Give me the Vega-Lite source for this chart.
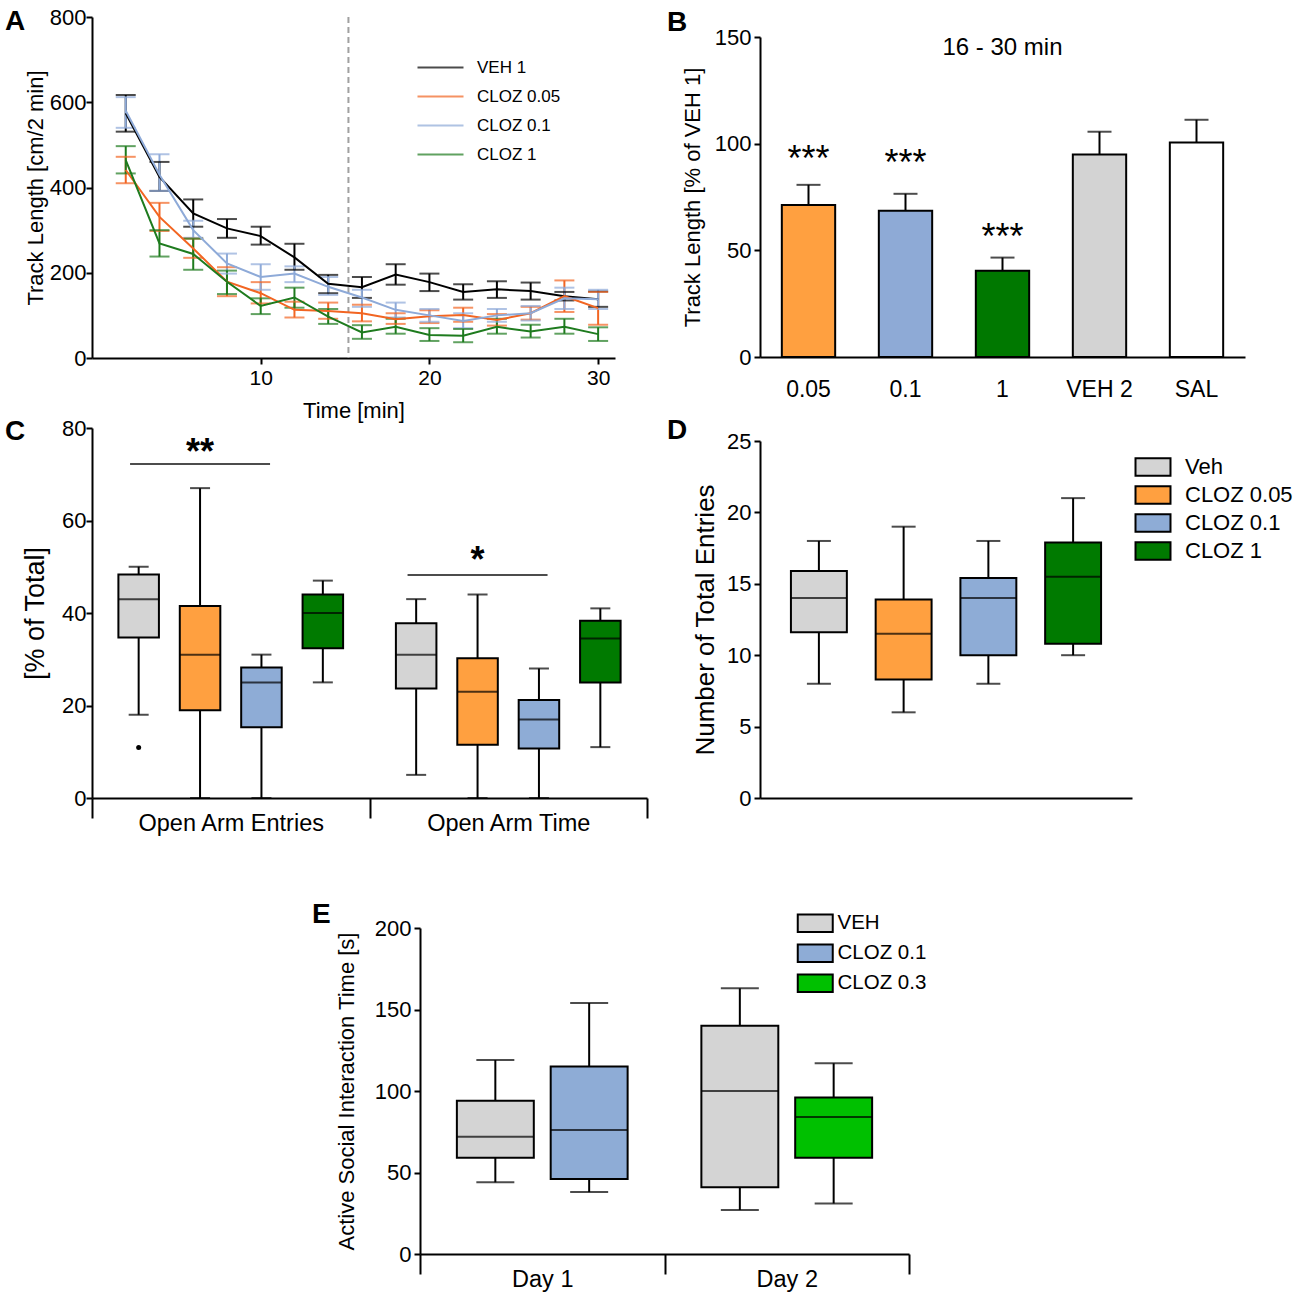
{
"$schema": "https://vega.github.io/schema/vega-lite/v6.json",
"background": "white",
"padding": {"left": 5, "top": 5, "right": 5, "bottom": 5},
"config": {
  "font": "Liberation Sans",
  "view": {"stroke": null},
  "axis": {"domainColor": "black", "domainWidth": 2, "tickColor": "black", "tickWidth": 2, "tickSize": 6, "labelColor": "black", "labelFontSize": 22, "titleColor": "black", "titleFontSize": 22, "titleFontWeight": "normal", "grid": false, "labelPadding": 3, "labelLimit": 0},
  "legend": {"labelColor": "black", "padding": 0},
  "title": {"fontSize": 28, "fontWeight": "bold", "color": "black", "anchor": "start", "frame": "group", "baseline": "alphabetic"}
},
"resolve": {"scale": {"fill": "independent", "color": "independent", "xOffset": "independent"}, "legend": {"fill": "independent", "color": "independent"}},
"datasets": {
  "tl": [
    {"t":2,"g":"VEH 1","m":574,"lo":531,"hi":617},{"t":4,"g":"VEH 1","m":425,"lo":392,"hi":460},{"t":6,"g":"VEH 1","m":339,"lo":308,"hi":372},{"t":8,"g":"VEH 1","m":304,"lo":282,"hi":326},{"t":10,"g":"VEH 1","m":286,"lo":266,"hi":308},{"t":12,"g":"VEH 1","m":236,"lo":207,"hi":268},{"t":14,"g":"VEH 1","m":174,"lo":152,"hi":195},{"t":16,"g":"VEH 1","m":166,"lo":141,"hi":190},{"t":18,"g":"VEH 1","m":196,"lo":172,"hi":220},{"t":20,"g":"VEH 1","m":178,"lo":157,"hi":198},{"t":22,"g":"VEH 1","m":155,"lo":137,"hi":173},{"t":24,"g":"VEH 1","m":161,"lo":141,"hi":180},{"t":26,"g":"VEH 1","m":157,"lo":137,"hi":177},{"t":28,"g":"VEH 1","m":145,"lo":135,"hi":155},{"t":30,"g":"VEH 1","m":138,"lo":120,"hi":156},
    {"t":2,"g":"CLOZ 0.05","m":441,"lo":410,"hi":472},{"t":4,"g":"CLOZ 0.05","m":331,"lo":298,"hi":364},{"t":6,"g":"CLOZ 0.05","m":257,"lo":235,"hi":280},{"t":8,"g":"CLOZ 0.05","m":179,"lo":145,"hi":213},{"t":10,"g":"CLOZ 0.05","m":152,"lo":128,"hi":178},{"t":12,"g":"CLOZ 0.05","m":113,"lo":95,"hi":132},{"t":14,"g":"CLOZ 0.05","m":110,"lo":92,"hi":130},{"t":16,"g":"CLOZ 0.05","m":105,"lo":86,"hi":125},{"t":18,"g":"CLOZ 0.05","m":91,"lo":80,"hi":105},{"t":20,"g":"CLOZ 0.05","m":98,"lo":82,"hi":112},{"t":22,"g":"CLOZ 0.05","m":101,"lo":85,"hi":118},{"t":24,"g":"CLOZ 0.05","m":89,"lo":76,"hi":103},{"t":26,"g":"CLOZ 0.05","m":105,"lo":90,"hi":120},{"t":28,"g":"CLOZ 0.05","m":145,"lo":108,"hi":182},{"t":30,"g":"CLOZ 0.05","m":117,"lo":78,"hi":155},
    {"t":2,"g":"CLOZ 0.1","m":580,"lo":540,"hi":612},{"t":4,"g":"CLOZ 0.1","m":430,"lo":392,"hi":478},{"t":6,"g":"CLOZ 0.1","m":300,"lo":282,"hi":322},{"t":8,"g":"CLOZ 0.1","m":222,"lo":198,"hi":245},{"t":10,"g":"CLOZ 0.1","m":190,"lo":160,"hi":220},{"t":12,"g":"CLOZ 0.1","m":198,"lo":178,"hi":215},{"t":14,"g":"CLOZ 0.1","m":167,"lo":148,"hi":190},{"t":16,"g":"CLOZ 0.1","m":142,"lo":120,"hi":160},{"t":18,"g":"CLOZ 0.1","m":113,"lo":95,"hi":130},{"t":20,"g":"CLOZ 0.1","m":100,"lo":85,"hi":115},{"t":22,"g":"CLOZ 0.1","m":87,"lo":70,"hi":105},{"t":24,"g":"CLOZ 0.1","m":100,"lo":85,"hi":115},{"t":26,"g":"CLOZ 0.1","m":105,"lo":88,"hi":122},{"t":28,"g":"CLOZ 0.1","m":140,"lo":115,"hi":165},{"t":30,"g":"CLOZ 0.1","m":138,"lo":115,"hi":160},
    {"t":2,"g":"CLOZ 1","m":464,"lo":433,"hi":497},{"t":4,"g":"CLOZ 1","m":269,"lo":238,"hi":300},{"t":6,"g":"CLOZ 1","m":244,"lo":207,"hi":280},{"t":8,"g":"CLOZ 1","m":179,"lo":150,"hi":205},{"t":10,"g":"CLOZ 1","m":122,"lo":103,"hi":140},{"t":12,"g":"CLOZ 1","m":142,"lo":118,"hi":165},{"t":14,"g":"CLOZ 1","m":97,"lo":80,"hi":115},{"t":16,"g":"CLOZ 1","m":60,"lo":45,"hi":77},{"t":18,"g":"CLOZ 1","m":73,"lo":57,"hi":92},{"t":20,"g":"CLOZ 1","m":54,"lo":40,"hi":70},{"t":22,"g":"CLOZ 1","m":52,"lo":37,"hi":68},{"t":24,"g":"CLOZ 1","m":73,"lo":57,"hi":92},{"t":26,"g":"CLOZ 1","m":62,"lo":48,"hi":78},{"t":28,"g":"CLOZ 1","m":73,"lo":57,"hi":92},{"t":30,"g":"CLOZ 1","m":56,"lo":40,"hi":72}
  ],
  "bars": [{"cat":"0.05","m":71.3,"hi":80.7},{"cat":"0.1","m":68.6,"hi":76.5},{"cat":"1","m":40.4,"hi":46.6},{"cat":"VEH 2","m":94.9,"hi":105.6},{"cat":"SAL","m":100.5,"hi":111.2}],
  "bstars": [{"cat":"0.05","y":87.4,"label":"***"},{"cat":"0.1","y":85.1,"label":"***"},{"cat":"1","y":50.4,"label":"***"}],
  "bnote": [{"cat":"1","y":141.6,"label":"16 - 30 min"}],
  "cbox": [
    {"measure":"Open Arm Entries","cond":"Veh","min":18,"q1":34.7,"med":43,"q3":48.3,"max":50},
    {"measure":"Open Arm Entries","cond":"CLOZ 0.05","min":0,"q1":19,"med":31,"q3":41.5,"max":67},
    {"measure":"Open Arm Entries","cond":"CLOZ 0.1","min":0,"q1":15.3,"med":25,"q3":28.2,"max":31},
    {"measure":"Open Arm Entries","cond":"CLOZ 1","min":25,"q1":32.4,"med":40,"q3":44,"max":47},
    {"measure":"Open Arm Time","cond":"Veh","min":5,"q1":23.7,"med":31,"q3":37.8,"max":43},
    {"measure":"Open Arm Time","cond":"CLOZ 0.05","min":0,"q1":11.5,"med":23,"q3":30.2,"max":44},
    {"measure":"Open Arm Time","cond":"CLOZ 0.1","min":0,"q1":10.7,"med":17,"q3":21.2,"max":28},
    {"measure":"Open Arm Time","cond":"CLOZ 1","min":11,"q1":25,"med":34.5,"q3":38.3,"max":41}
  ],
  "cout": [{"measure":"Open Arm Entries","cond":"Veh","v":10.9}],
  "csig": [{"measure":"Open Arm Entries","cond":"CLOZ 0.05","y":72.2,"ty":72.2,"label":"**"},{"measure":"Open Arm Time","cond":"CLOZ 0.05","y":48.2,"ty":48.9,"label":"*"}],
  "dbox": [
    {"cond":"Veh","min":8,"q1":11.6,"med":14,"q3":15.9,"max":18},
    {"cond":"CLOZ 0.05","min":6,"q1":8.3,"med":11.5,"q3":13.9,"max":19},
    {"cond":"CLOZ 0.1","min":8,"q1":10,"med":14,"q3":15.4,"max":18},
    {"cond":"CLOZ 1","min":10,"q1":10.8,"med":15.5,"q3":17.9,"max":21}
  ],
  "ebox": [
    {"day":"Day 1","slot":"a","cond":"VEH","min":44,"q1":59,"med":72,"q3":94,"max":119},
    {"day":"Day 1","slot":"b","cond":"CLOZ 0.1","min":38,"q1":46,"med":76,"q3":115,"max":154},
    {"day":"Day 2","slot":"a","cond":"VEH","min":27,"q1":41,"med":100,"q3":140,"max":163},
    {"day":"Day 2","slot":"b","cond":"CLOZ 0.3","min":31,"q1":59,"med":84,"q3":96,"max":117}
  ],
  "blank": [{}]
},
"vconcat": [
 {"hconcat": [
  {"vconcat": [
   {"vconcat": [
    {"width": 1, "height": 1, "data": {"name": "blank"}, "mark": {"type": "point", "opacity": 0, "size": 0, "strokeWidth": 0}},
    {"width": 523, "height": 341,
     "title": {"text": "A", "dx": -87, "offset": -30},
     "layer": [
      {"data": {"values": [{"t": 15.2}]}, "mark": {"type": "rule", "color": "#a0a0a0", "strokeWidth": 2, "strokeDash": [6, 4]}, "encoding": {"x": {"field": "t", "type": "quantitative", "title": "Time [min]"}}},
      {"data": {"name": "tl"},
       "encoding": {
         "x": {"field": "t", "type": "quantitative", "title": "Time [min]", "scale": {"domain": [1, 31], "nice": false}, "axis": {"values": [10, 20, 30], "titlePadding": 12, "labelFontSize": 21}},
         "color": {"field": "g", "type": "nominal", "scale": {"domain": ["VEH 1", "CLOZ 0.05", "CLOZ 0.1", "CLOZ 1"], "range": ["#000000", "#f26522", "#8eaad8", "#1e7b1e"]},
           "legend": {"title": null, "orient": "none", "legendX": 336, "legendY": 50, "symbolType": "M-2,0H2", "symbolSize": 529, "symbolStrokeWidth": 2, "labelFontSize": 17, "labelOffset": 24, "rowPadding": 8}}
       },
       "layer": [
        {"mark": {"type": "rule", "strokeWidth": 2}, "encoding": {"y": {"field": "lo", "type": "quantitative", "title": "Track Length [cm/2 min]"}, "y2": {"field": "hi"}}},
        {"mark": {"type": "tick", "orient": "horizontal", "size": 20, "thickness": 2}, "encoding": {"y": {"field": "lo", "type": "quantitative", "title": "Track Length [cm/2 min]"}}},
        {"mark": {"type": "tick", "orient": "horizontal", "size": 20, "thickness": 2}, "encoding": {"y": {"field": "hi", "type": "quantitative", "title": "Track Length [cm/2 min]"}}},
        {"mark": {"type": "line", "strokeWidth": 2}, "encoding": {"y": {"field": "m", "type": "quantitative", "title": "Track Length [cm/2 min]", "scale": {"domain": [0, 800], "nice": false}, "axis": {"values": [0, 200, 400, 600, 800], "titlePadding": 2, "labelPadding": 0}}}}
       ]
      }
     ]
    }
   ], "spacing": 0},
   {"width": 555, "height": 370,
    "title": {"text": "C", "dx": -87, "offset": -29},
    "encoding": {
      "x": {"field": "measure", "type": "nominal", "title": null, "scale": {"domain": ["Open Arm Entries", "Open Arm Time"], "paddingInner": 0, "paddingOuter": 0}, "axis": {"labelAngle": 0, "tickBand": "extent", "tickSize": 20, "labelPadding": -7, "labelFontSize": 23.5}},
      "xOffset": {"field": "cond", "type": "nominal", "scale": {"domain": ["Veh", "CLOZ 0.05", "CLOZ 0.1", "CLOZ 1"], "paddingInner": 0.34, "paddingOuter": 0.43}}
    },
    "layer": [
     {"data": {"name": "cbox"}, "mark": {"type": "rule", "strokeWidth": 2, "color": "black"}, "encoding": {"y": {"field": "min", "type": "quantitative", "title": "[% of Total]", "scale": {"domain": [0, 80], "nice": false}, "axis": {"values": [0, 20, 40, 60, 80], "titlePadding": 12, "titleFontSize": 27, "labelPadding": 0}}, "y2": {"field": "max"}}},
     {"data": {"name": "cbox"}, "mark": {"type": "tick", "orient": "horizontal", "size": 20, "thickness": 2, "color": "black"}, "encoding": {"y": {"field": "min", "type": "quantitative", "title": "[% of Total]"}}},
     {"data": {"name": "cbox"}, "mark": {"type": "tick", "orient": "horizontal", "size": 20, "thickness": 2, "color": "black"}, "encoding": {"y": {"field": "max", "type": "quantitative", "title": "[% of Total]"}}},
     {"data": {"name": "cbox"}, "mark": {"type": "bar", "stroke": "black", "strokeWidth": 2}, "encoding": {"y": {"field": "q1", "type": "quantitative", "title": "[% of Total]"}, "y2": {"field": "q3"}, "fill": {"field": "cond", "type": "nominal", "scale": {"domain": ["Veh", "CLOZ 0.05", "CLOZ 0.1", "CLOZ 1"], "range": ["#d4d4d4", "#ffa040", "#8eacd6", "#007a00"]}, "legend": null}}},
     {"data": {"name": "cbox"}, "mark": {"type": "tick", "orient": "horizontal", "size": 41, "thickness": 2, "color": "black"}, "encoding": {"y": {"field": "med", "type": "quantitative", "title": "[% of Total]"}}},
     {"data": {"name": "cout"}, "mark": {"type": "point", "filled": true, "color": "black", "size": 25, "opacity": 1}, "encoding": {"y": {"field": "v", "type": "quantitative", "title": "[% of Total]"}}},
     {"data": {"name": "csig"}, "mark": {"type": "tick", "orient": "horizontal", "size": 140, "thickness": 2, "color": "black"}, "encoding": {"y": {"field": "y", "type": "quantitative", "title": "[% of Total]"}}},
     {"data": {"name": "csig"}, "mark": {"type": "text", "fontSize": 36, "fontWeight": "bold", "baseline": "alphabetic", "color": "black"}, "encoding": {"y": {"field": "ty", "type": "quantitative", "title": "[% of Total]"}, "text": {"field": "label"}}}
    ]
   }
  ], "spacing": -4, "resolve": {"scale": {"fill": "independent", "color": "independent", "xOffset": "independent"}, "legend": {"fill": "independent", "color": "independent"}}},
  {"vconcat": [
   {"vconcat": [
    {"width": 1, "height": 1, "data": {"name": "blank"}, "mark": {"type": "point", "opacity": 0, "size": 0, "strokeWidth": 0}},
    {"width": 485, "height": 320,
     "title": {"text": "B", "dx": -93, "offset": -11},
     "encoding": {"x": {"field": "cat", "type": "nominal", "title": null, "scale": {"domain": ["0.05", "0.1", "1", "VEH 2", "SAL"], "paddingInner": 0.45, "paddingOuter": 0.225}, "axis": {"labelAngle": 0, "ticks": false, "tickSize": 0, "labelPadding": 21, "labelFontSize": 23}}},
     "layer": [
      {"data": {"name": "bars"}, "mark": {"type": "rule", "strokeWidth": 2, "color": "black"}, "encoding": {"y": {"field": "m", "type": "quantitative", "title": "Track Length [% of VEH 1]", "scale": {"domain": [0, 150], "nice": false}, "axis": {"values": [0, 50, 100, 150], "titlePadding": 10}}, "y2": {"field": "hi"}}},
      {"data": {"name": "bars"}, "mark": {"type": "tick", "orient": "horizontal", "size": 24, "thickness": 2, "color": "black"}, "encoding": {"y": {"field": "hi", "type": "quantitative", "title": "Track Length [% of VEH 1]"}}},
      {"data": {"name": "bars"}, "mark": {"type": "bar", "stroke": "black", "strokeWidth": 2}, "encoding": {"y": {"field": "m", "type": "quantitative", "title": "Track Length [% of VEH 1]"}, "fill": {"field": "cat", "type": "nominal", "scale": {"domain": ["0.05", "0.1", "1", "VEH 2", "SAL"], "range": ["#ffa040", "#8eaad6", "#007800", "#d3d3d3", "#ffffff"]}, "legend": null}}},
      {"data": {"name": "bstars"}, "mark": {"type": "text", "fontSize": 36, "baseline": "alphabetic", "color": "black"}, "encoding": {"y": {"field": "y", "type": "quantitative", "title": "Track Length [% of VEH 1]"}, "text": {"field": "label"}}},
      {"data": {"name": "bnote"}, "mark": {"type": "text", "fontSize": 24, "baseline": "alphabetic", "color": "black"}, "encoding": {"y": {"field": "y", "type": "quantitative", "title": "Track Length [% of VEH 1]"}, "text": {"field": "label"}}}
     ]
    }
   ], "spacing": 3},
   {"width": 372, "height": 357,
    "title": {"text": "D", "dx": -93, "offset": -15},
    "data": {"name": "dbox"},
    "encoding": {"x": {"field": "cond", "type": "nominal", "title": null, "scale": {"domain": ["Veh", "CLOZ 0.05", "CLOZ 0.1", "CLOZ 1"], "paddingInner": 0.34, "paddingOuter": 0.365}, "axis": {"labels": false, "ticks": false}}},
    "layer": [
     {"mark": {"type": "rule", "strokeWidth": 2, "color": "black"}, "encoding": {"y": {"field": "min", "type": "quantitative", "title": "Number of Total Entries", "scale": {"domain": [0, 25], "nice": false}, "axis": {"values": [0, 5, 10, 15, 20, 25], "titlePadding": 8, "titleFontSize": 26}}, "y2": {"field": "max"}}},
     {"mark": {"type": "tick", "orient": "horizontal", "size": 24, "thickness": 2, "color": "black"}, "encoding": {"y": {"field": "min", "type": "quantitative", "title": "Number of Total Entries"}}},
     {"mark": {"type": "tick", "orient": "horizontal", "size": 24, "thickness": 2, "color": "black"}, "encoding": {"y": {"field": "max", "type": "quantitative", "title": "Number of Total Entries"}}},
     {"mark": {"type": "bar", "stroke": "black", "strokeWidth": 2}, "encoding": {"y": {"field": "q1", "type": "quantitative", "title": "Number of Total Entries"}, "y2": {"field": "q3"}, "fill": {"field": "cond", "type": "nominal", "scale": {"domain": ["Veh", "CLOZ 0.05", "CLOZ 0.1", "CLOZ 1"], "range": ["#d4d4d4", "#ffa040", "#8eacd6", "#007a00"]},
        "legend": {"title": null, "orient": "none", "legendX": 382, "legendY": 15, "symbolType": "M-2,-1H2V1H-2Z", "symbolSize": 306, "symbolStrokeColor": "black", "symbolStrokeWidth": 2, "labelFontSize": 22, "labelOffset": 21, "rowPadding": 2}}}},
     {"mark": {"type": "tick", "orient": "horizontal", "size": 56, "thickness": 2, "color": "black"}, "encoding": {"y": {"field": "med", "type": "quantitative", "title": "Number of Total Entries"}}}
    ]
   }
  ], "spacing": 16, "resolve": {"scale": {"fill": "independent", "color": "independent", "xOffset": "independent"}, "legend": {"fill": "independent", "color": "independent"}}}
 ], "spacing": 19, "resolve": {"scale": {"fill": "independent", "color": "independent", "xOffset": "independent"}, "legend": {"fill": "independent", "color": "independent"}}},
 {"hconcat": [
   {"width": 220, "height": 1, "data": {"name": "blank"}, "mark": {"type": "point", "opacity": 0, "size": 0, "strokeWidth": 0}},
   {"width": 489, "height": 326,
    "title": {"text": "E", "dx": -108, "offset": -16},
    "data": {"name": "ebox"},
    "encoding": {
      "x": {"field": "day", "type": "nominal", "title": null, "scale": {"domain": ["Day 1", "Day 2"], "paddingInner": 0, "paddingOuter": 0}, "axis": {"labelAngle": 0, "tickBand": "extent", "tickSize": 20, "labelPadding": -7, "labelFontSize": 23.5}},
      "xOffset": {"field": "slot", "type": "nominal", "scale": {"domain": ["a", "b"], "paddingInner": 0.18, "paddingOuter": 0.393}}
    },
    "layer": [
     {"mark": {"type": "rule", "strokeWidth": 2, "color": "black"}, "encoding": {"y": {"field": "min", "type": "quantitative", "title": "Active Social Interaction Time [s]", "scale": {"domain": [0, 200], "nice": false}, "axis": {"values": [0, 50, 100, 150, 200], "titlePadding": 16}}, "y2": {"field": "max"}}},
     {"mark": {"type": "tick", "orient": "horizontal", "size": 38, "thickness": 2, "color": "black"}, "encoding": {"y": {"field": "min", "type": "quantitative", "title": "Active Social Interaction Time [s]"}}},
     {"mark": {"type": "tick", "orient": "horizontal", "size": 38, "thickness": 2, "color": "black"}, "encoding": {"y": {"field": "max", "type": "quantitative", "title": "Active Social Interaction Time [s]"}}},
     {"mark": {"type": "bar", "stroke": "black", "strokeWidth": 2}, "encoding": {"y": {"field": "q1", "type": "quantitative", "title": "Active Social Interaction Time [s]"}, "y2": {"field": "q3"}, "fill": {"field": "cond", "type": "nominal", "scale": {"domain": ["VEH", "CLOZ 0.1", "CLOZ 0.3"], "range": ["#d4d4d4", "#8eacd6", "#00c000"]},
        "legend": {"title": null, "orient": "none", "legendX": 385, "legendY": -15, "symbolType": "M-2,-1H2V1H-2Z", "symbolSize": 306, "symbolStrokeColor": "black", "symbolStrokeWidth": 2, "labelFontSize": 20.5, "labelOffset": 12, "rowPadding": 4}}}},
     {"mark": {"type": "tick", "orient": "horizontal", "size": 77, "thickness": 2, "color": "black"}, "encoding": {"y": {"field": "med", "type": "quantitative", "title": "Active Social Interaction Time [s]"}}}
    ]
   }
 ], "spacing": 0, "resolve": {"scale": {"fill": "independent", "color": "independent", "xOffset": "independent"}, "legend": {"fill": "independent", "color": "independent"}}}
],
"spacing": 66
}
